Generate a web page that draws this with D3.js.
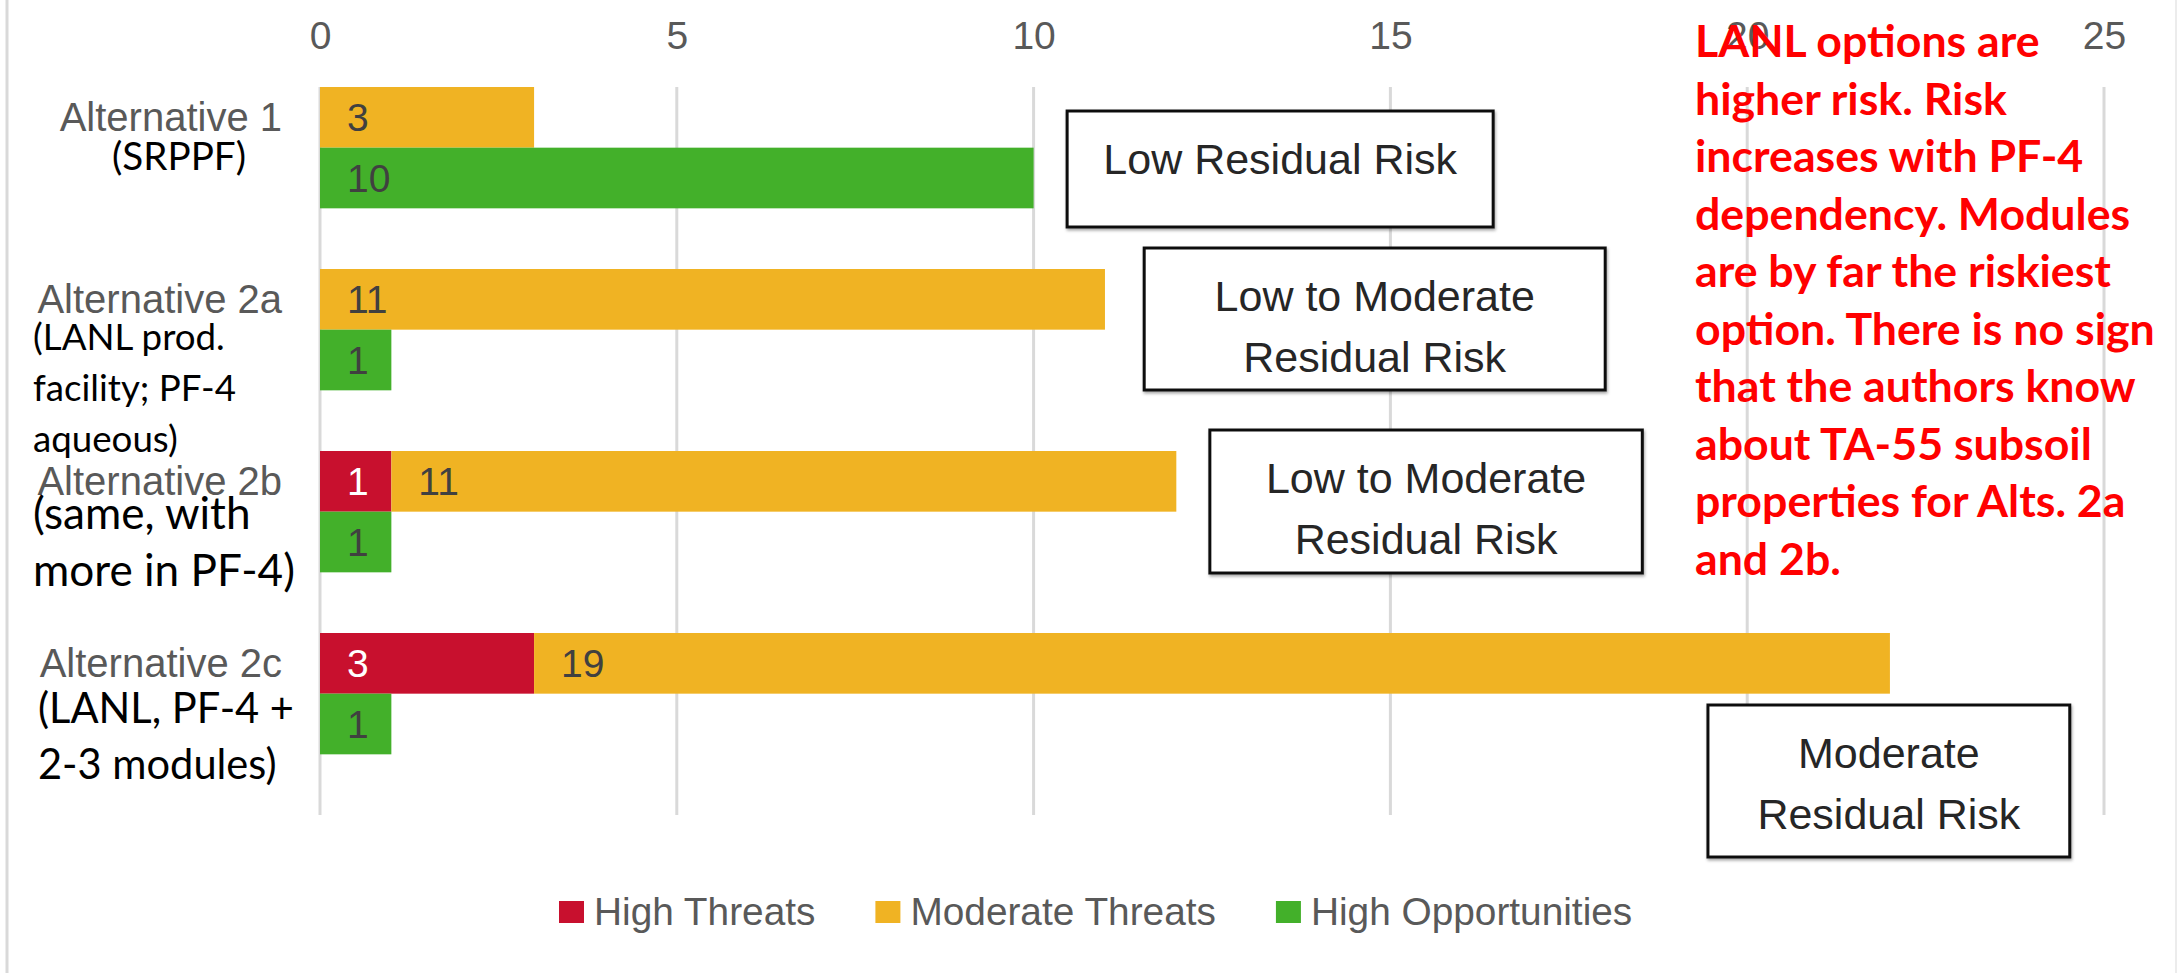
<!DOCTYPE html>
<html>
<head>
<meta charset="utf-8">
<script src="https://cdnjs.cloudflare.com/ajax/libs/d3/7.8.5/d3.min.js"></script>
<style>
  html, body { margin: 0; padding: 0; background: #ffffff; }
  svg { display: block; }
</style>
</head>
<body>
<svg id="chart" width="2177" height="973"></svg>
<script>
// ---------------- DATA ----------------
const categories = ["Alternative 1", "Alternative 2a", "Alternative 2b", "Alternative 2c"];
const highThreats = [0, 0, 1, 3];
const moderateThreats = [3, 11, 11, 19];
const highOpportunities = [10, 1, 1, 1];
const xTicks = [0, 5, 10, 15, 20, 25];
const seriesNames = ["High Threats", "Moderate Threats", "High Opportunities"];
const riskLabels = [
  ["Low Residual Risk"],
  ["Low to Moderate", "Residual Risk"],
  ["Low to Moderate", "Residual Risk"],
  ["Moderate", "Residual Risk"]
];
const altNotes = [
  ["(SRPPF)"],
  ["(LANL prod.", "facility; PF-4", "aqueous)"],
  ["(same, with", "more in PF-4)"],
  ["(LANL, PF-4 +", "2-3 modules)"]
];
const commentLines = [
  "LANL options are",
  "higher risk. Risk",
  "increases with PF-4",
  "dependency. Modules",
  "are by far the riskiest",
  "option. There is no sign",
  "that the authors know",
  "about TA-55 subsoil",
  "properties for Alts. 2a",
  "and 2b."
];

// ---------------- STYLE / LAYOUT ----------------
const seriesColors = ["#C8102E", "#F0B323", "#43B02A"];
const grayText = "#595959";
const chartFont = "'Liberation Sans', Arial, sans-serif";
const noteFont = "Lato, 'Open Sans', sans-serif";
// risk boxes: [x0, x1] in data units, y offsets relative to category band top
const boxLayout = [
  { x0: 10.47, x1: 16.44, top: 24, bottom: 140 },
  { x0: 11.55, x1: 18.01, top: -21, bottom: 121 },
  { x0: 12.47, x1: 18.53, top: -21, bottom: 122 },
  { x0: 19.45, x1: 24.52, top: 72, bottom: 224 }
];
// black notes: baseline offsets relative to band top, anchor, x, target width
const noteLayout = [
  { x: 179, anchor: "middle", base: 83, step: 52, width: 134 },
  { x: 33, anchor: "start", base: 81, step: 51, width: 203 },
  { x: 33, anchor: "start", base: 78, step: 57, width: 262 },
  { x: 38, anchor: "start", base: 90, step: 56, width: 256 }
];

const W = 2177, H = 973;
const plotTop = 87, plotBottom = 815, plotLeft = 320, plotRight = 2104;

const svg = d3.select("#chart");
svg.append("rect").attr("width", W).attr("height", H).attr("fill", "#fff");

// border lines
svg.append("line").attr("x1", 7).attr("x2", 7).attr("y1", 0).attr("y2", H)
  .attr("stroke", "#d9d9d9").attr("stroke-width", 3);
svg.append("line").attr("x1", W - 1).attr("x2", W - 1).attr("y1", 0).attr("y2", H)
  .attr("stroke", "#ececec").attr("stroke-width", 2);

const defs = svg.append("defs");
const f = defs.append("filter").attr("id", "shadow").attr("x", "-5%").attr("y", "-5%").attr("width", "115%").attr("height", "120%");
f.append("feDropShadow").attr("dx", 1).attr("dy", 2).attr("stdDeviation", 1.5)
  .attr("flood-color", "#000").attr("flood-opacity", 0.35);

// scales
const x = d3.scaleLinear().domain([0, 25]).range([plotLeft, plotRight]);
const y0 = d3.scaleBand().domain(categories).range([plotTop, plotBottom]).paddingInner(0).paddingOuter(0);
const y1 = d3.scaleBand().domain(["threats", "opps"]).range([0, y0.bandwidth() * 2 / 3]);

// gridlines
svg.append("g").selectAll("line").data(xTicks).join("line")
  .attr("x1", d => x(d)).attr("x2", d => x(d))
  .attr("y1", plotTop).attr("y2", plotBottom)
  .attr("stroke", "#d9d9d9").attr("stroke-width", 3);

// top axis labels
const axis = svg.append("g").attr("transform", `translate(0,${plotTop})`)
  .call(d3.axisTop(x).tickValues(xTicks).tickSize(0).tickPadding(38).tickFormat(d3.format("d")));
axis.select(".domain").remove();
axis.selectAll("text").attr("font-family", chartFont).attr("font-size", 39).attr("fill", grayText);

// bars
const rows = categories.map((c, i) => ({
  cat: c,
  segs: [
    { row: "threats", s: 0, start: 0, v: highThreats[i] },
    { row: "threats", s: 1, start: highThreats[i], v: moderateThreats[i] },
    { row: "opps", s: 2, start: 0, v: highOpportunities[i] }
  ].filter(d => d.v > 0)
}));

const gBars = svg.append("g");
rows.forEach(r => {
  const g = gBars.append("g").attr("transform", `translate(0,${y0(r.cat)})`);
  g.selectAll("rect").data(r.segs).join("rect")
    .attr("x", d => x(d.start))
    .attr("width", d => x(d.start + d.v) - x(d.start))
    .attr("y", d => y1(d.row))
    .attr("height", y1.bandwidth())
    .attr("fill", d => seriesColors[d.s]);
  g.selectAll("text").data(r.segs).join("text")
    .attr("x", d => x(d.start) + 27)
    .attr("y", d => y1(d.row) + y1.bandwidth() / 2)
    .attr("dy", "0.36em")
    .attr("font-family", chartFont).attr("font-size", 39)
    .attr("fill", d => d.s === 0 ? "#ffffff" : "#404040")
    .text(d => d.v);
});

// category labels
svg.append("g").selectAll("text").data(categories).join("text")
  .attr("x", 282)
  .attr("y", d => y0(d) + y1("threats") + y1.bandwidth() / 2)
  .attr("dy", "0.35em")
  .attr("text-anchor", "end")
  .attr("font-family", chartFont).attr("font-size", 40)
  .attr("fill", grayText)
  .text(d => d);

// black notes
function fitWidth(sel, target) {
  let w = 0;
  sel.each(function () { w = Math.max(w, this.getComputedTextLength()); });
  const fs = parseFloat(sel.attr("font-size"));
  if (w > 0) sel.attr("font-size", fs * target / w);
}
altNotes.forEach((lines, i) => {
  const L = noteLayout[i];
  const t = svg.append("g").selectAll("text").data(lines).join("text")
    .attr("x", L.x)
    .attr("y", (d, j) => y0(categories[i]) + L.base + j * L.step)
    .attr("text-anchor", L.anchor)
    .attr("font-family", noteFont).attr("font-size", 36)
    .attr("fill", "#000")
    .text(d => d);
  fitWidth(t, L.width);
});

// risk boxes
riskLabels.forEach((lines, i) => {
  const B = boxLayout[i];
  const top = y0(categories[i]) + B.top, bottom = y0(categories[i]) + B.bottom;
  const g = svg.append("g");
  g.append("rect")
    .attr("x", x(B.x0)).attr("y", top)
    .attr("width", x(B.x1) - x(B.x0)).attr("height", bottom - top)
    .attr("fill", "#fff").attr("stroke", "#111").attr("stroke-width", 3)
    .attr("filter", "url(#shadow)");
  g.selectAll("text").data(lines).join("text")
    .attr("x", (x(B.x0) + x(B.x1)) / 2)
    .attr("y", (d, j) => top + 63 + j * 61)
    .attr("text-anchor", "middle")
    .attr("font-family", chartFont).attr("font-size", 43)
    .attr("fill", "#262626")
    .text(d => d);
});

// red comment
const red = svg.append("g").selectAll("text").data(commentLines).join("text")
  .attr("x", 1695)
  .attr("y", (d, i) => 57 + i * 57.5)
  .attr("font-family", noteFont).attr("font-weight", "bold").attr("font-size", 40)
  .attr("fill", "#ff0000")
  .text(d => d);
fitWidth(red.filter(d => d === "option. There is no sign"), 460);
red.attr("font-size", red.filter(d => d === "option. There is no sign").attr("font-size"));

// legend
const legend = svg.append("g");
let lx = 559;
seriesNames.forEach((name, i) => {
  legend.append("rect").attr("x", lx).attr("y", 901).attr("width", 25).attr("height", 22)
    .attr("fill", seriesColors[i]);
  const t = legend.append("text").attr("x", lx + 35).attr("y", 925)
    .attr("font-family", chartFont).attr("font-size", 38.8).attr("fill", grayText)
    .text(name);
  lx = lx + 35 + t.node().getComputedTextLength() + 60;
});
</script>
</body>
</html>
